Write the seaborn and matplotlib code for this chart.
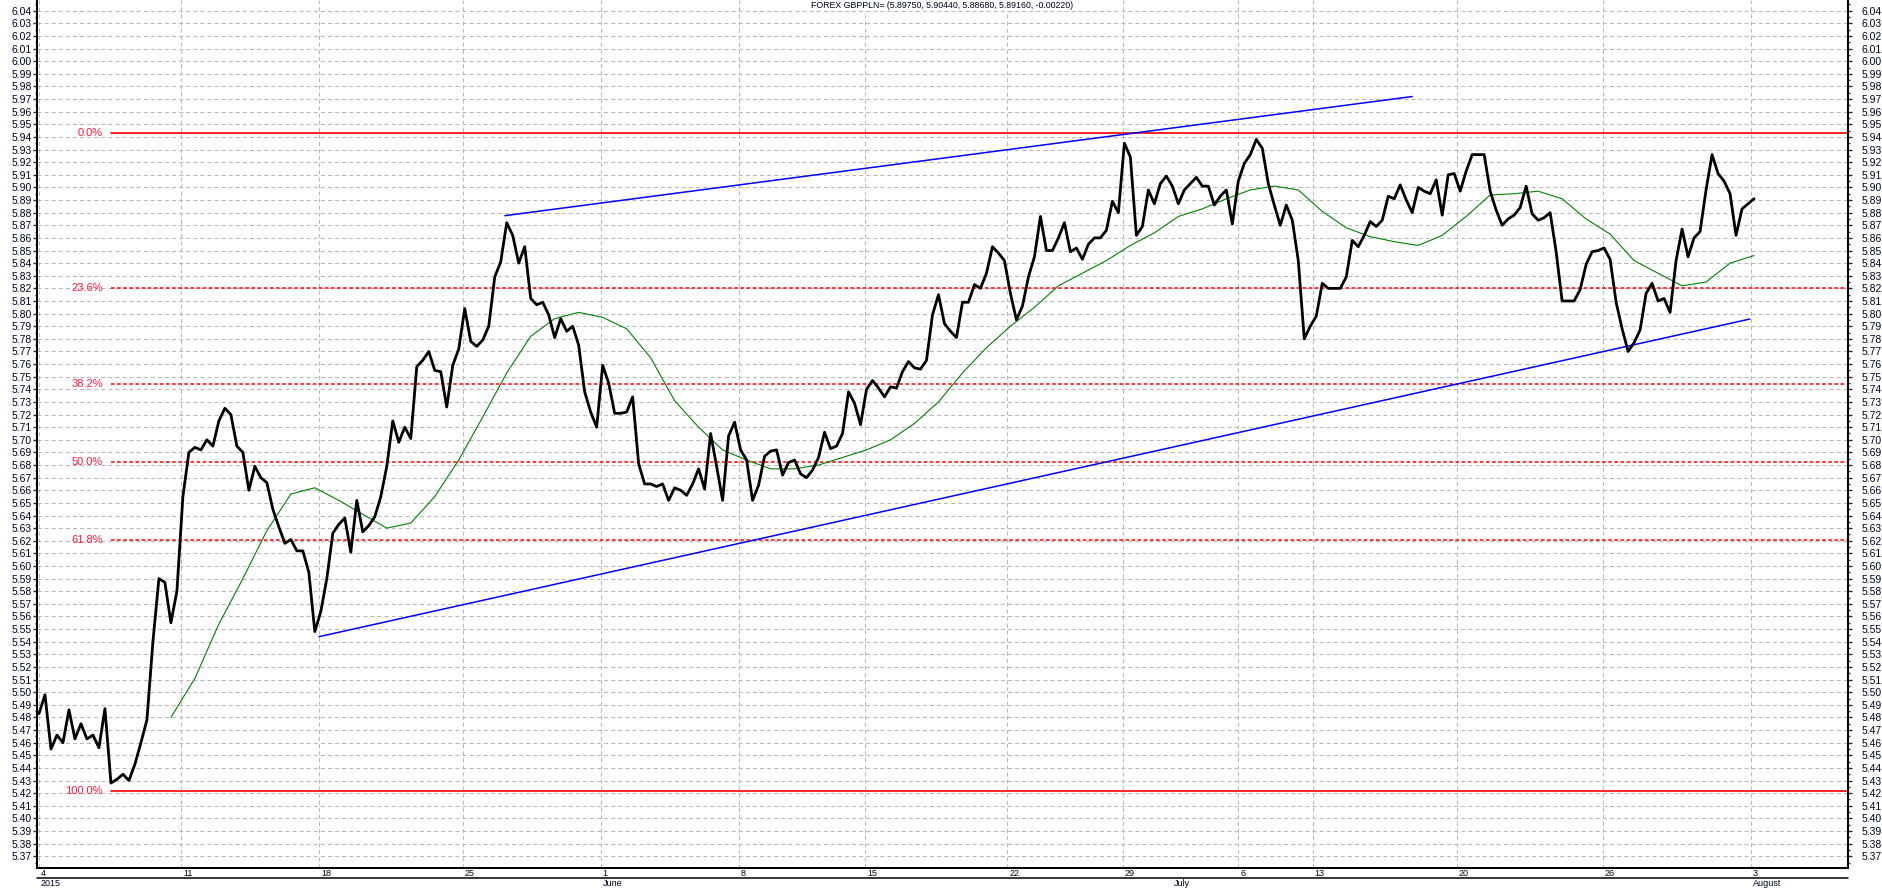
import numpy as np
import pandas as pd
import matplotlib
matplotlib.use("Agg")
import matplotlib.pyplot as plt
import matplotlib.transforms as mtransforms
from matplotlib.ticker import MultipleLocator, FormatStrFormatter
import seaborn as sns

# GBPPLN price, one value per bar
close = [
    5.483, 5.498, 5.455, 5.466, 5.460, 5.486, 5.463, 5.475, 5.463, 5.466,
    5.456, 5.487, 5.428, 5.431, 5.435, 5.430, 5.443, 5.460, 5.478, 5.540,
    5.590, 5.587, 5.555, 5.580, 5.655, 5.690, 5.694, 5.692, 5.700, 5.695,
    5.715, 5.725, 5.720, 5.695, 5.690, 5.660, 5.679, 5.670, 5.666, 5.645,
    5.631, 5.618, 5.621, 5.612, 5.612, 5.595, 5.548, 5.564, 5.590, 5.626,
    5.633, 5.638, 5.611, 5.652, 5.627, 5.632, 5.639, 5.655, 5.679, 5.715,
    5.698, 5.710, 5.701, 5.758, 5.763, 5.770, 5.755, 5.754, 5.726, 5.759,
    5.772, 5.804, 5.778, 5.774, 5.779, 5.790, 5.829, 5.841, 5.872, 5.862,
    5.840, 5.853, 5.812, 5.807, 5.809, 5.799, 5.781, 5.796, 5.786, 5.790,
    5.775, 5.738, 5.722, 5.710, 5.759, 5.745, 5.721, 5.721, 5.722, 5.734,
    5.681, 5.665, 5.665, 5.663, 5.665, 5.652, 5.662, 5.660, 5.656, 5.665,
    5.677, 5.661, 5.705, 5.679, 5.652, 5.703, 5.714, 5.692, 5.684, 5.652,
    5.664, 5.687, 5.691, 5.692, 5.672, 5.682, 5.684, 5.673, 5.670, 5.676,
    5.686, 5.706, 5.693, 5.695, 5.705, 5.738, 5.729, 5.712, 5.740, 5.747,
    5.741, 5.734, 5.742, 5.741, 5.754, 5.762, 5.757, 5.756, 5.763, 5.799,
    5.815, 5.792, 5.786, 5.781, 5.809, 5.809, 5.823, 5.820, 5.832, 5.853,
    5.848, 5.842, 5.816, 5.795, 5.806, 5.829, 5.845, 5.877, 5.850, 5.850,
    5.860, 5.872, 5.849, 5.852, 5.843, 5.855, 5.860, 5.860, 5.866, 5.889,
    5.880, 5.935, 5.924, 5.862, 5.869, 5.898, 5.887, 5.903, 5.909, 5.901,
    5.887, 5.898, 5.903, 5.908, 5.901, 5.901, 5.886, 5.893, 5.898, 5.871,
    5.905, 5.919, 5.926, 5.938, 5.931, 5.903, 5.886, 5.870, 5.886, 5.874,
    5.842, 5.780, 5.790, 5.798, 5.824, 5.820, 5.820, 5.820, 5.829, 5.858,
    5.853, 5.862, 5.873, 5.869, 5.874, 5.893, 5.891, 5.902, 5.890, 5.880,
    5.900, 5.897, 5.895, 5.906, 5.878, 5.910, 5.911, 5.897, 5.913, 5.926,
    5.926, 5.926, 5.897, 5.882, 5.870, 5.875, 5.878, 5.884, 5.901, 5.879,
    5.874, 5.876, 5.880, 5.849, 5.810, 5.810, 5.810, 5.819, 5.839, 5.849,
    5.850, 5.852, 5.843, 5.809, 5.788, 5.770, 5.777, 5.787, 5.816, 5.824,
    5.810, 5.812, 5.801, 5.842, 5.867, 5.845, 5.860, 5.865, 5.898, 5.926,
    5.911, 5.905, 5.895, 5.862, 5.883, 5.887, 5.891,
]

# green moving average, read every 4 bars starting at bar 22
ma_start, ma_step = 22, 4
ma = [
    5.480, 5.511, 5.554, 5.590, 5.628, 5.657, 5.662, 5.652, 5.641, 5.630,
    5.634, 5.655, 5.684, 5.718, 5.753, 5.782, 5.796, 5.801, 5.797, 5.788,
    5.765, 5.731, 5.710, 5.692, 5.684, 5.677, 5.677, 5.680, 5.686, 5.692,
    5.700, 5.713, 5.730, 5.753, 5.773, 5.790, 5.805, 5.822, 5.832, 5.842,
    5.854, 5.864, 5.877, 5.883, 5.891, 5.898, 5.901, 5.898, 5.881, 5.868,
    5.861, 5.857, 5.854, 5.862, 5.877, 5.894, 5.895, 5.897, 5.891, 5.875,
    5.863, 5.842, 5.832, 5.822, 5.825, 5.840, 5.846,
]

# date axis (bar positions of the labels)
week_pos = [0, 23.75, 46.75, 70.67, 93.67, 116.67, 137.75, 161.5, 180.75,
            200, 212.4, 236.45, 260.8, 285.5]
week_lab = ["4", "11", "18", "25", "1", "8", "15", "22", "29",
            "6", "13", "20", "26", "3"]
month_pos = [0, 93.67, 188.9, 285.5]
month_lab = ["2015", "June", "July", "August"]

# fibonacci retracement
fib_levels = [5.943, 5.820, 5.744, 5.6825, 5.621, 5.422]
fib_labels = ["0.0%", "23.6%", "38.2%", "50.0%", "61.8%", "100.0%"]

# trend channel endpoints (bar, price)
upper_x = [77.7, 229.0]
upper_y = [5.8776, 5.972]
lower_x = [46.7, 285.3]
lower_y = [5.544, 5.7957]

title = "FOREX GBPPLN= (5.89750, 5.90440, 5.88680, 5.89160, -0.00220)"

xmin, xmax = -0.33, 301.67
ymin, ymax = 5.3607, 6.0485


def main():
    sns.set_style("white")
    plt.rcParams["font.family"] = ["Liberation Sans", "DejaVu Sans"]
    plt.rcParams["lines.scale_dashes"] = False

    fig = plt.figure(figsize=(18.83, 8.89), dpi=100)
    ax = fig.add_axes([37 / 1883, 21 / 889, 1811 / 1883, 868 / 889])

    price = pd.DataFrame({"bar": np.arange(len(close)), "price": close})
    avg = pd.DataFrame({"bar": ma_start + ma_step * np.arange(len(ma)), "ma": ma})

    sns.lineplot(data=price, x="bar", y="price", color="black", lw=2.0,
                 estimator=None, sort=False, ax=ax, zorder=5)
    sns.lineplot(data=avg, x="bar", y="ma", color="#008000", lw=0.8,
                 estimator=None, sort=False, ax=ax, zorder=4)

    # fib lines start at the swing low bar
    x0 = int(np.argmin(close))
    for lvl, lab in zip(fib_levels, fib_labels):
        solid = lab in ("0.0%", "100.0%")
        ax.plot([x0, xmax], [lvl, lvl], color="#ff0000",
                lw=1.2 if solid else 1.1,
                ls="-" if solid else (0, (2.6, 1.8)), zorder=3)
        ax.annotate(lab, (x0, lvl), xytext=(-8, 0), textcoords="offset pixels",
                    ha="right", va="center", color="#ff1a3c", fontsize=8)

    ax.plot(upper_x, upper_y, color="#0000ff", lw=1.1, zorder=4)
    ax.plot(lower_x, lower_y, color="#0000ff", lw=1.1, zorder=4)

    ax.set_xlim(xmin, xmax)
    ax.set_ylim(ymin, ymax)
    ax.set_xlabel("")
    ax.set_ylabel("")

    # y axis, labels on both sides
    ax.yaxis.set_major_locator(MultipleLocator(0.01))
    ax.yaxis.set_minor_locator(MultipleLocator(0.005))
    ax.yaxis.set_major_formatter(FormatStrFormatter("%.2f"))
    ax.tick_params(axis="y", which="major", direction="out", length=3,
                   width=1, pad=0.8, labelsize=7.5, labelcolor="#000020",
                   left=True, right=False)
    ax.tick_params(axis="y", which="minor", direction="out", length=1.6,
                   width=1, left=True, right=False)

    axr = ax.twinx()
    axr.set_ylim(ymin, ymax)
    axr.yaxis.set_major_locator(MultipleLocator(0.01))
    axr.yaxis.set_minor_locator(MultipleLocator(0.005))
    axr.yaxis.set_major_formatter(FormatStrFormatter("%.2f"))
    axr.tick_params(axis="y", which="major", direction="out", length=3,
                    width=1, pad=6.5, labelsize=7.5, labelcolor="#000020")
    axr.tick_params(axis="y", which="minor", direction="out", length=1.6, width=1)
    axr.grid(False)

    # date rows: weeks on top, months below
    ax.set_xticks(week_pos)
    ax.set_xticklabels([])
    ax.set_xticks(month_pos, minor=True)
    ax.xaxis.remove_overlapping_locs = False
    ax.tick_params(axis="x", which="major", direction="out", length=7.3, width=1)
    ax.tick_params(axis="x", which="minor", direction="out", length=15.2, width=1)

    trans = mtransforms.blended_transform_factory(ax.transData, ax.transAxes)
    for pos, lab in zip(week_pos, week_lab):
        ax.annotate(lab, (pos, 0), xycoords=trans, xytext=(2, -1),
                    textcoords="offset pixels", ha="left", va="top",
                    fontsize=6.5, color="#000020")
    for pos, lab in zip(month_pos, month_lab):
        ax.annotate(lab, (pos, 0), xycoords=trans, xytext=(2, -11),
                    textcoords="offset pixels", ha="left", va="top",
                    fontsize=6.5, color="#000020")
    row_line = ax.transAxes + mtransforms.ScaledTranslation(0, -0.10, fig.dpi_scale_trans)
    ax.plot([0, 1], [0, 0], transform=row_line, color="black", lw=1.1, clip_on=False)

    # grid
    ax.grid(True, which="major", color="#b8b8b8", lw=0.75, ls=(0, (2.9, 2.2)))
    ax.set_axisbelow(True)

    for a in (ax, axr):
        for side in ("left", "right", "bottom"):
            a.spines[side].set_color("black")
            a.spines[side].set_linewidth(1.4)
        a.spines["top"].set_visible(False)

    ax.text(0.5, 0.999, title, transform=ax.transAxes, ha="center", va="top",
            fontsize=6.3, color="#000020", zorder=6,
            bbox=dict(facecolor="white", edgecolor="none", pad=1))

    fig.savefig("out.png", dpi=100)


if __name__ == "__main__":
    main()
